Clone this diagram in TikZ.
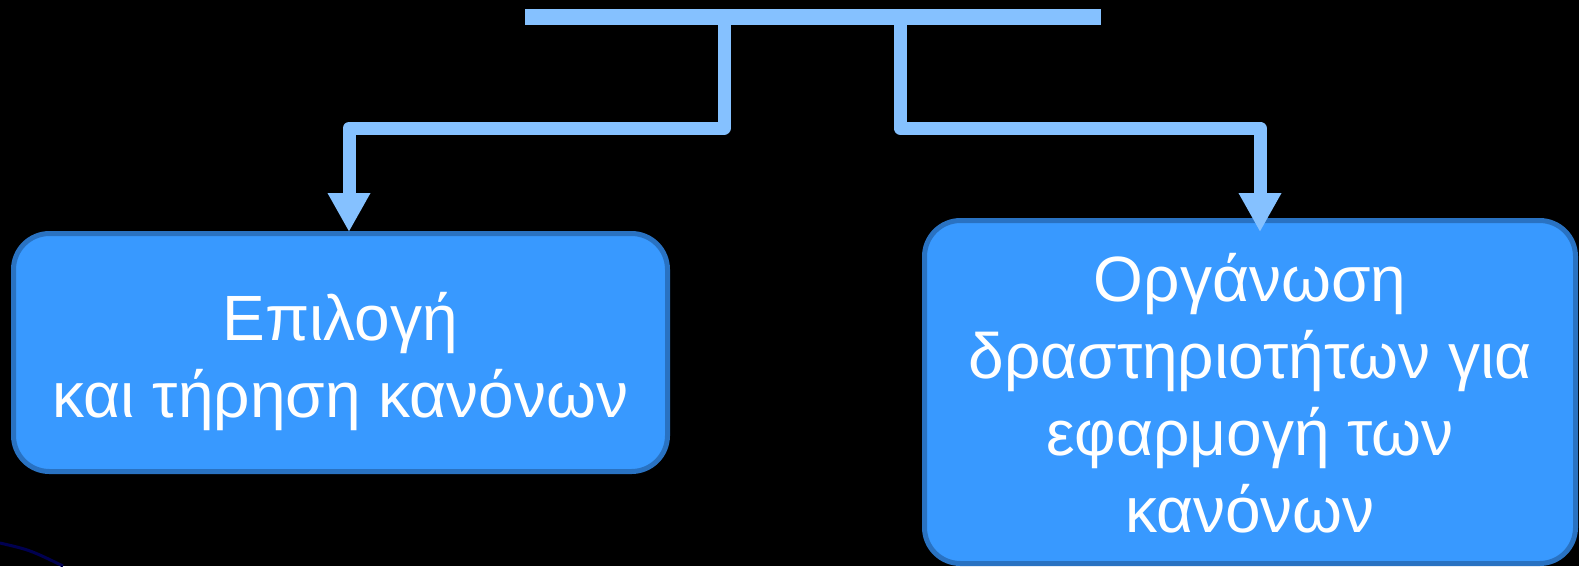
\documentclass[tikz,border=0pt]{standalone}
\usepackage{fontspec}
\setmainfont{Liberation Sans}
\usetikzlibrary{arrows.meta}
\definecolor{lineblue}{RGB}{133,193,255}
\definecolor{boxfill}{RGB}{56,153,255}
\definecolor{boxedge}{RGB}{41,114,194}
\definecolor{navyline}{RGB}{0,0,80}
\begin{document}
\begin{tikzpicture}[x=1pt,y=-1pt,
  box/.style={draw=boxedge, line width=5pt, fill=boxfill, rounded corners=36pt, inner sep=0pt, outer sep=0pt},
  lbl/.style={text=white, inner sep=0pt, font=\fontsize{64}{77}\selectfont},
  conn/.style={draw=lineblue, line width=13pt, line join=round, -{Triangle[width=40pt,length=39pt]}},
]
\fill[black] (0,0) rectangle (1579,566);
\useasboundingbox (0,0) rectangle (1579,566);
\node[fill=lineblue, minimum width=576pt, minimum height=16pt, inner sep=0pt, outer sep=0pt] (bar) at (813,17) {};
\node[box, minimum width=654pt, minimum height=238pt] (b1) at (340.5,352.5) {};
\node[box, minimum width=651pt, minimum height=343pt] (b2) at (1250,392) {};
\node[lbl] (t1) at (340.5,364) {\begin{tabular}{c}Επιλογή\\και τήρηση κανόνων\end{tabular}};
\node[lbl] (t2) at (1250,402) {\begin{tabular}{c}Οργάνωση\\δραστηριοτήτων για\\εφαρμογή των\\κανόνων\end{tabular}};
\coordinate (s1) at (724,20);
\coordinate (e1) at (349,232);
\coordinate (s2) at (900,20);
\coordinate (e2) at (1260,232);
\draw[conn] (s1) -- (724,128) -- (349,128) -- (e1);
\draw[conn] (s2) -- (900,128) -- (1260,128) -- (e2);
\draw[navyline, line width=3pt] (0,543) .. controls (30,550) .. (63,566);
\end{tikzpicture}
\end{document}
